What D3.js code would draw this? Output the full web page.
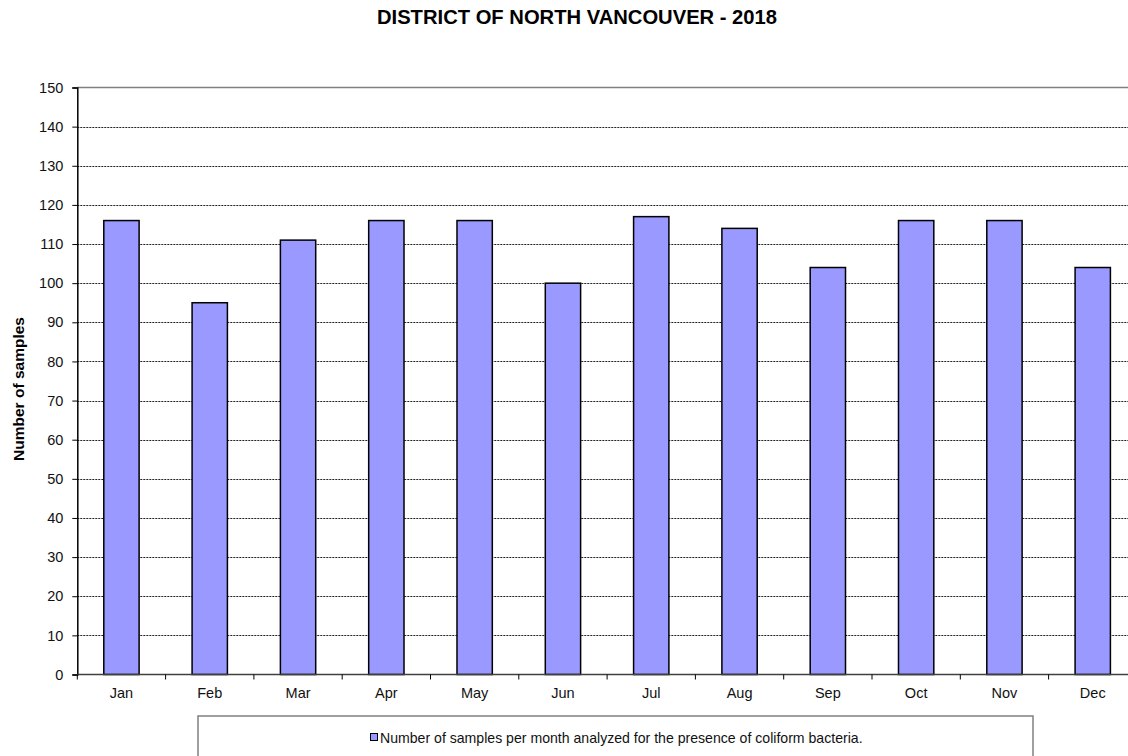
<!DOCTYPE html>
<html>
<head>
<meta charset="utf-8">
<script src="https://cdn.jsdelivr.net/npm/d3@7"></script>
<style>
  body { margin: 0; background: #fff; }
  svg { display: block; font-family: Arial, "Liberation Sans", sans-serif; }
</style>
</head>
<body>
<svg id="chart" width="1128" height="756"></svg>
<script>
const months = ['Jan', 'Feb', 'Mar', 'Apr', 'May', 'Jun', 'Jul', 'Aug', 'Sep', 'Oct', 'Nov', 'Dec']
const samples = [116, 95, 111, 116, 116, 100, 117, 114, 104, 116, 116, 104]
const yTicks = [0, 10, 20, 30, 40, 50, 60, 70, 80, 90, 100, 110, 120, 130, 140, 150]
const seriesName = 'Number of samples per month analyzed for the presence of coliform bacteria.'

const svg = d3.select('#chart')
const plotLeft = 77.3, plotTop = 87.5, plotBottom = 674.5, step = 88.3
const plotRight = plotLeft + step * months.length

const x = d3.scaleBand()
            .domain(months)
            .range([plotLeft, plotRight])
            .paddingInner(0.6)
            .paddingOuter(0.3)
const y = d3.scaleLinear()
            .domain([0, 150])
            .range([plotBottom, plotTop])

// title
svg.append('text')
  .attr('x', 577).attr('y', 23.5)
  .attr('text-anchor', 'middle')
  .attr('font-size', 20.2).attr('font-weight', 'bold')
  .text('DISTRICT OF NORTH VANCOUVER - 2018')

// gridlines (dashed)
svg.append('g')
  .selectAll('line')
  .data(yTicks.filter(d => d > 0 && d < 150))
  .join('line')
    .attr('x1', plotLeft).attr('x2', plotRight)
    .attr('y1', d => Math.round(y(d)) + 0.5).attr('y2', d => Math.round(y(d)) + 0.5)
    .attr('stroke', '#222').attr('stroke-width', 1)
    .attr('stroke-dasharray', '2,1')

// top border
svg.append('line')
  .attr('x1', plotLeft).attr('x2', plotRight)
  .attr('y1', y(150)).attr('y2', y(150))
  .attr('stroke', '#808080').attr('stroke-width', 1.5)

// bars
svg.append('g')
  .selectAll('rect')
  .data(samples)
  .join('rect')
    .attr('x', (d, i) => x(months[i]))
    .attr('y', d => y(d))
    .attr('width', x.bandwidth())
    .attr('height', d => y(0) - y(d))
    .attr('fill', '#9999ff')
    .attr('stroke', '#000').attr('stroke-width', 1.5)

// y axis
const axisY = d3.axisLeft(y).tickValues(yTicks).tickSize(5).tickPadding(9)
const gy = svg.append('g')
  .attr('transform', `translate(${plotLeft}, 0)`)
  .call(axisY)
gy.select('.domain').attr('stroke-width', 1.5)
gy.selectAll('text').attr('font-size', 14.5).attr('font-family', 'Arial, "Liberation Sans", sans-serif').attr('fill', '#111')

// x axis: ticks between categories
const gx = svg.append('g')
gx.append('line')
  .attr('x1', plotLeft).attr('x2', plotRight)
  .attr('y1', plotBottom).attr('y2', plotBottom)
  .attr('stroke', '#404040').attr('stroke-width', 1.5)
gx.selectAll('line.tick')
  .data(d3.range(months.length + 1))
  .join('line')
    .attr('class', 'tick')
    .attr('x1', i => plotLeft + i * step).attr('x2', i => plotLeft + i * step)
    .attr('y1', plotBottom).attr('y2', plotBottom + 5)
    .attr('stroke', '#000')
gx.selectAll('text')
  .data(months)
  .join('text')
    .attr('x', d => x(d) + x.bandwidth() / 2)
    .attr('y', 698)
    .attr('text-anchor', 'middle')
    .attr('font-size', 14.5)
    .attr('fill', '#111')
    .text(d => d)

// y axis title
svg.append('text')
  .attr('transform', 'translate(24, 389) rotate(-90)')
  .attr('text-anchor', 'middle')
  .attr('font-size', 15.5).attr('font-weight', 'bold')
  .text('Number of samples')

// legend
const legend = svg.append('g')
legend.append('rect')
  .attr('x', 198).attr('y', 716)
  .attr('width', 835).attr('height', 60)
  .attr('fill', '#fff').attr('stroke', '#808080').attr('stroke-width', 1.5)
legend.append('rect')
  .attr('x', 370.5).attr('y', 733.5)
  .attr('width', 7).attr('height', 7)
  .attr('fill', '#9999ff').attr('stroke', '#000').attr('stroke-width', 1)
legend.append('text')
  .attr('x', 380).attr('y', 742.5)
  .attr('font-size', 14.1)
  .attr('fill', '#111')
  .text(seriesName)
</script>
</body>
</html>
